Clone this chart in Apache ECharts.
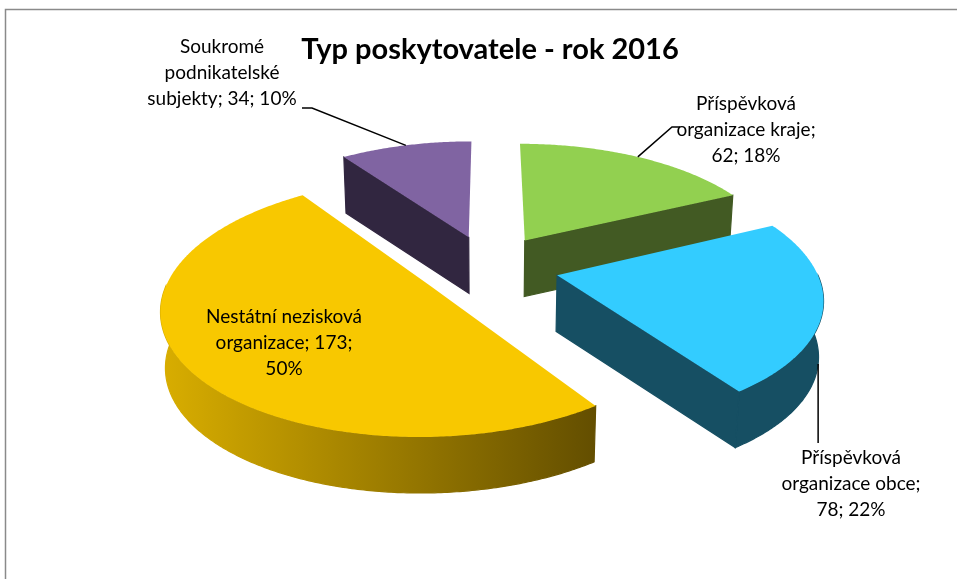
<!DOCTYPE html>
<html lang="cs">
<head>
<meta charset="UTF-8">
<title>Typ poskytovatele - rok 2016</title>
<script src="https://cdn.jsdelivr.net/npm/echarts@6/dist/echarts.min.js"></script>
<style>
    * { margin: 0; padding: 0; }
    body { background: #fff; }
    #chart { width: 957px; height: 579px; }
</style>
</head>
<body>
<div id="chart"></div>
<script>
    // data
    var names = ['Příspěvková organizace kraje', 'Příspěvková organizace obce', 'Nestátní nezisková organizace', 'Soukromé podnikatelské subjekty'];
    var values = [62, 78, 173, 34];
    // how Excel wrapped each data label
    var labelText = [
        'Příspěvková\norganizace kraje;\n62; 18%',
        'Příspěvková\norganizace obce;\n78; 22%',
        'Nestátní nezisková\norganizace; 173;\n50%',
        'Soukromé\npodnikatelské\nsubjekty; 34; 10%'
    ];
    var topColors = ['#92D050', '#33CCFF', '#F8C800', '#8064A2'];
    var sideColors = ['#425A23', '#164F63', null, '#312640'];

    // 3d look
    var CX = 489, CY = 267, RX = 258, RY = 120, G = 0.16, DEPTH = 56, EXPLODE = 0.27;
    var labelPos = [[746, 130], [851, 484], [284, 343], [222, 73]];
    var leaderFrom = [[[680, 127], [672, 127]], 'down', null, [[302, 108], [312, 108]]];
    var FONT = '19px Lato';

    var total = values.reduce(function (a, b) { return a + b; }, 0);
    var starts = [];
    var acc = 0;
    values.forEach(function (v) { starts.push(acc / total * Math.PI * 2); acc += v; });

    function proj(X, Z, down) {
        var p = 1 / (1 + G * Z);
        var x = CX + RX * X * p;
        if (down) x = CX + (x - CX) * 0.985;
        return [x, CY - RY * Z * p + (down || 0)];
    }

    function rim(off, a, down) {
        return proj(off[0] + Math.sin(a), off[1] + Math.cos(a), down);
    }

    function arc(off, a1, a2, down) {
        var pts = [];
        var n = Math.max(2, Math.ceil((a2 - a1) / 0.01));
        for (var k = 0; k <= n; k++) pts.push(rim(off, a1 + (a2 - a1) * k / n, down));
        return pts;
    }

    function renderItem(params, api) {
        var i = params.dataIndex;
        var a1 = starts[i];
        var a2 = a1 + api.value(0) / total * Math.PI * 2;
        var mid = (a1 + a2) / 2;
        var off = [EXPLODE * Math.sin(mid), EXPLODE * Math.cos(mid)];
        var base = Math.round((1 - off[1]) * 100);
        var children = [];
        var side = sideColors[i] || {
            type: 'linear', x: 0, y: 0, x2: 1, y2: 0,
            colorStops: [{ offset: 0, color: '#D9AE00' }, { offset: 1, color: '#634E00' }]
        };

        // front part of the outer wall
        var lo = Math.max(a1, Math.PI / 2), hi = Math.min(a2, Math.PI * 1.5);
        if (lo < hi) {
            children.push({
                type: 'polygon', z2: base,
                shape: { points: arc(off, lo, hi, 0).concat(arc(off, lo, hi, DEPTH).reverse()) },
                style: { fill: side, stroke: side, lineWidth: 1.2 }
            });
        }
        // radial walls that face the viewer
        var apexT = proj(off[0], off[1], 0), apexB = proj(off[0], off[1], DEPTH);
        [[a1, Math.sin(a1) < -0.01], [a2, Math.sin(a2) > 0.01]].forEach(function (e) {
            if (!e[1]) return;
            children.push({
                type: 'polygon', z2: base,
                shape: { points: [apexT, rim(off, e[0], 0), rim(off, e[0], DEPTH), apexB] },
                style: { fill: side, stroke: side, lineWidth: 1.2 }
            });
        });
        // top face
        children.push({
            type: 'polygon', z2: base + 1,
            shape: { points: [apexT].concat(arc(off, a1, a2, 0)) },
            style: { fill: topColors[i] }
        });

        // leader line
        var lf = leaderFrom[i];
        if (lf === 'down') {
            var t = rim(off, mid, DEPTH);
            children.push({
                type: 'polyline', z2: 300,
                shape: { points: [[t[0], labelPos[i][1] - 41], t] },
                style: { stroke: '#000', lineWidth: 1.5, fill: null }
            });
        } else if (lf) {
            children.push({
                type: 'polyline', z2: 300,
                shape: { points: lf.concat([rim(off, mid, 0)]) },
                style: { stroke: '#000', lineWidth: 1.5, fill: null }
            });
        }
        // data label
        children.push({
            type: 'text', z2: 400,
            x: labelPos[i][0], y: labelPos[i][1],
            style: {
                text: labelText[i],
                fill: '#000',
                font: FONT,
                lineHeight: 26,
                align: 'center',
                verticalAlign: 'middle'
            }
        });
        return { type: 'group', children: children };
    }

    var chart = echarts.init(document.getElementById('chart'));
    chart.setOption({
        animation: false,
        graphic: [
            {
                type: 'polyline',
                shape: { points: [[957, 9.5], [5.5, 9.5], [5.5, 579]] },
                style: { stroke: '#8a8a8a', lineWidth: 1.5, fill: null }
            },
            {
                type: 'text', x: 490, y: 50,
                style: {
                    text: 'Typ poskytovatele - rok 2016',
                    font: 'bold 29px Lato',
                    fill: '#000',
                    align: 'center',
                    verticalAlign: 'middle'
                }
            }
        ],
        series: [{
            type: 'custom',
            coordinateSystem: 'none',
            renderItem: renderItem,
            data: values.map(function (v, i) { return { name: names[i], value: [v] }; })
        }]
    });
</script>
</body>
</html>
